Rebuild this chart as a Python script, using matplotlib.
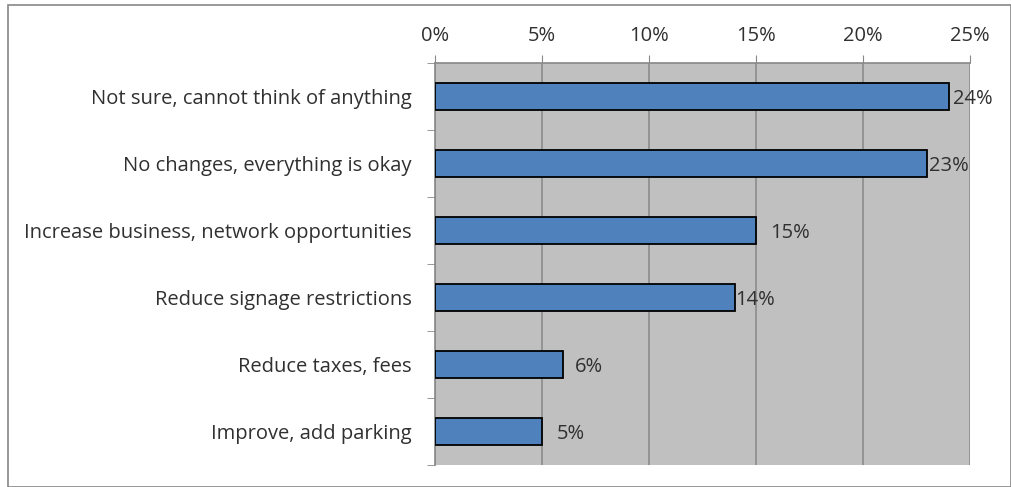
import matplotlib
matplotlib.use("Agg")
import matplotlib.pyplot as plt
from matplotlib.patches import Rectangle

categories = [
    "Not sure, cannot think of anything",
    "No changes, everything is okay",
    "Increase business, network opportunities",
    "Reduce signage restrictions",
    "Reduce taxes, fees",
    "Improve, add parking",
]
values = [24, 23, 15, 14, 6, 5]
value_labels = ["24%", "23%", "15%", "14%", "6%", "5%"]
xticks = [0, 5, 10, 15, 20, 25]
xtick_labels = ["0%", "5%", "10%", "15%", "20%", "25%"]

# extra horizontal gap (in %-units) between bar end and its label
label_gaps = [0.2, 0.1, 0.65, 0.05, 0.55, 0.7]

W, H = 1011, 487
fig = plt.figure(figsize=(W / 100, H / 100), dpi=100)
fig.patch.set_facecolor("white")

# thin gray frame around the whole chart
fig.add_artist(Rectangle((8 / W, 0), (W - 8) / W, (H - 5) / H, transform=fig.transFigure,
                         fill=False, edgecolor="#888888", linewidth=1.2))

left, right, top, bottom = 435, 970, 63, 465
ax = fig.add_axes([left / W, 1 - bottom / H, (right - left) / W, (bottom - top) / H])
ax.set_facecolor("#C0C0C0")

n = len(categories)
ypos = list(range(n))
ax.barh(ypos, values, height=0.4, color="#4F81BD", edgecolor="black",
        linewidth=1.3, zorder=3)

font = "Open Sans"
fs = 14.5
txt_color = "#303030"
for y, v, lab, g in zip(ypos, values, value_labels, label_gaps):
    ax.text(v + g, y + 0.03, lab, va="center", ha="left", fontsize=fs,
            family=font, color=txt_color, zorder=4)

ax.set_xlim(0, 25)
ax.set_ylim(n - 0.5, -0.5)
ax.xaxis.set_ticks_position("top")
ax.set_xticks(xticks)
ax.set_xticklabels(xtick_labels, family=font, fontsize=fs, color=txt_color)
ax.tick_params(axis="x", direction="out", length=6, color="#888888", pad=6)
ax.grid(axis="x", color="#8C8C8C", linewidth=1.2, zorder=1)

# category labels centred on the bars, ticks on the category boundaries
ax.set_yticks(ypos)
ax.set_yticklabels(categories, family=font, fontsize=fs, color=txt_color)
ax.set_yticks([i - 0.5 for i in range(n + 1)], minor=True)
ax.tick_params(axis="y", which="major", length=0, pad=17)
ax.tick_params(axis="y", which="minor", length=6, color="#888888", direction="out")

for s in ["right", "bottom"]:
    ax.spines[s].set_visible(False)
ax.spines["top"].set_color("#888888")
ax.spines["left"].set_color("#888888")
ax.spines["top"].set_linewidth(1.2)
ax.spines["left"].set_linewidth(1.2)

fig.savefig("out.png", dpi=100, facecolor="white")
